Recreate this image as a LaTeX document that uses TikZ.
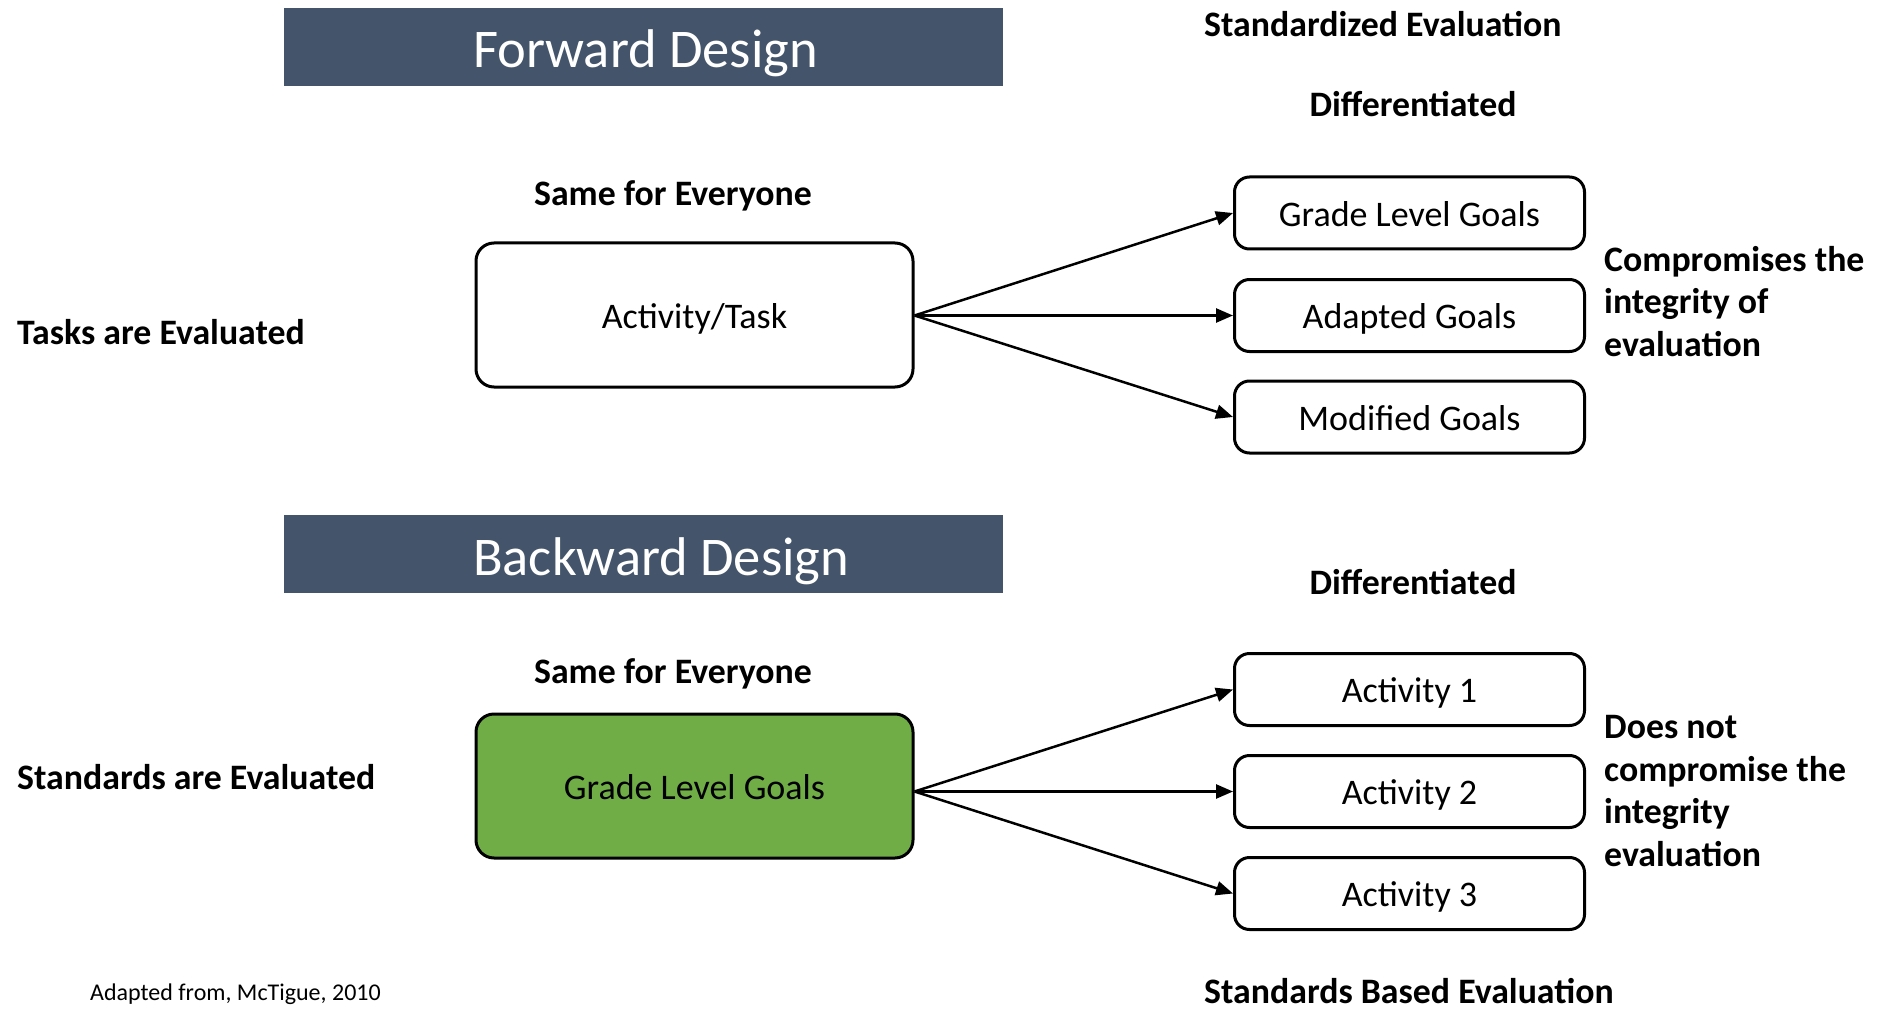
\documentclass[tikz,border=0pt]{standalone}
\usepackage{fontspec}
\setmainfont{Carlito}
\usetikzlibrary{arrows.meta}
\definecolor{bannerc}{HTML}{44546A}
\definecolor{greenc}{HTML}{70AD47}
\begin{document}
\begin{tikzpicture}[x=1pt,y=-1pt,
  banner/.style={fill=bannerc, draw=none, minimum width=719pt, minimum height=78pt, inner sep=0pt},
  titletext/.style={anchor=base west, text=white, font=\fontsize{54.5}{60}\selectfont, inner sep=0pt},
  lbl/.style={font=\bfseries\fontsize{35.8}{42.5}\selectfont, inner sep=0pt},
  bigbox/.style={draw, line width=3pt, rounded corners=18pt, minimum width=437pt, minimum height=144pt, font=\fontsize{36}{40}\selectfont, text height=30pt, text depth=4pt, inner sep=0pt},
  smallbox/.style={draw, line width=3pt, rounded corners=15pt, minimum width=350pt, minimum height=72pt, font=\fontsize{36}{40}\selectfont, text height=30pt, text depth=4pt, inner sep=0pt},
  arr/.style={line width=2.5pt, -{Triangle[length=17pt,width=14pt]}}
]
\useasboundingbox (0,0) rectangle (1877,1011);

% Forward design
\node[banner] (fban) at (643.5,47) {};
\node[titletext] (ftitle) at (473,68) {Forward Design};
\node[lbl, anchor=base west] (stdeval) at (1204,37) {Standardized Evaluation};
\node[lbl, anchor=base] (fdiff) at (1413,117) {Differentiated};
\node[lbl, anchor=base] (fsame) at (673,206) {Same for Everyone};
\node[lbl, anchor=base west] (ftasks) at (17,344) {Tasks are Evaluated};
\node[bigbox] (task) at (694.5,315) {Activity/Task};
\node[smallbox] (fg1) at (1409.5,213) {Grade Level Goals};
\node[smallbox] (fg2) at (1409.5,315.5) {Adapted Goals};
\node[smallbox] (fg3) at (1409.5,417) {Modified Goals};
\node[lbl, anchor=base west, align=left] (fcomp) at (1604,356) {Compromises the\\integrity of\\evaluation};
\draw[arr] (task.east |- fg2.west) -- (fg1.west);
\draw[arr] (task.east |- fg2.west) -- (fg2.west);
\draw[arr] (task.east |- fg2.west) -- (fg3.west);

% Backward design
\node[banner] (bban) at (643.5,554) {};
\node[titletext] (btitle) at (473,575) {Backward Design};
\node[lbl, anchor=base] (bdiff) at (1413,594) {Differentiated};
\node[lbl, anchor=base] (bsame) at (673,683) {Same for Everyone};
\node[lbl, anchor=base west] (bstd) at (17,789) {Standards are Evaluated};
\node[bigbox, fill=greenc] (goals) at (694.5,786) {Grade Level Goals};
\node[smallbox] (ba1) at (1409.5,689.5) {Activity 1};
\node[smallbox] (ba2) at (1409.5,791.5) {Activity 2};
\node[smallbox] (ba3) at (1409.5,893.5) {Activity 3};
\node[lbl, anchor=base west, align=left] (bcomp) at (1604,866) {Does not\\compromise the\\integrity\\evaluation};
\draw[arr] (goals.east |- ba2.west) -- (ba1.west);
\draw[arr] (goals.east |- ba2.west) -- (ba2.west);
\draw[arr] (goals.east |- ba2.west) -- (ba3.west);

\node[lbl, anchor=base west] (sbe) at (1204,1003) {Standards Based Evaluation};
\node[anchor=base west, inner sep=0pt, font=\fontsize{24}{28}\selectfont] (src) at (90,1000) {Adapted from, McTigue, 2010};
\end{tikzpicture}
\end{document}
